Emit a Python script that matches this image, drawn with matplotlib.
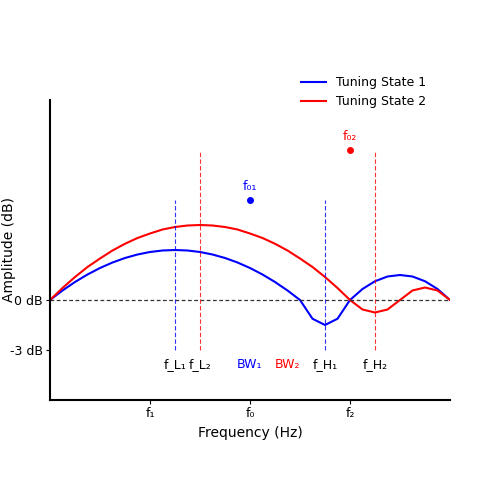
import numpy as np
import matplotlib
matplotlib.use("Agg")
import matplotlib.pyplot as plt

x = [i*0.25 for i in range(33)]
blue = [0,0.19,0.36,0.51,0.64,0.75,0.84,0.91,0.96,0.99,1.0,0.99,0.96,0.91,0.84,0.75,0.64,0.51,0.36,0.19,0,
        -0.375,-0.5,-0.375,0,0.22,0.375,0.47,0.5,0.47,0.375,0.22,0]
red = [0,0.24,0.46,0.66,0.83,0.99,1.125,1.24,1.33,1.41,1.46,1.49,1.5,1.49,1.46,1.41,1.33,1.24,1.125,0.99,0.83,0.66,0.46,0.24,0,
       -0.19,-0.25,-0.19,0,0.19,0.25,0.19,0]
vl_blue = [2.5, 5.5]; vl_blue_top = 2
vl_red = [3, 6.5]; vl_red_top = 3
f01 = (4, 2); f02 = (6, 3)
xticks = [2, 4, 6]; xticklabels = ["f₁", "f₀", "f₂"]
yticks = [0, -1]; yticklabels = ["0 dB", "-3 dB"]
labels = [(2.5, "f_L₁", "black"), (3.0, "f_L₂", "black"), (4.0, "BW₁", "blue"),
          (4.75, "BW₂", "red"), (5.5, "f_H₁", "black"), (6.5, "f_H₂", "black")]

fig = plt.figure(figsize=(5, 5), dpi=100)
ax = fig.add_axes([0.1, 0.2, 0.8, 0.6])
ax.plot(x, blue, color="blue", lw=1.5, label="Tuning State 1")
ax.plot(x, red, color="red", lw=1.5, label="Tuning State 2")
ax.axhline(0, color="#333333", ls=(0, (3, 2)), lw=0.9)
for v in vl_blue:
    ax.plot([v, v], [-1, vl_blue_top], color="blue", ls=(0, (4, 2)), lw=0.8, alpha=0.8)
for v in vl_red:
    ax.plot([v, v], [-1, vl_red_top], color="red", ls=(0, (4, 2)), lw=0.8, alpha=0.8)
ax.plot(*f01, "o", color="blue", ms=4)
ax.plot(*f02, "o", color="red", ms=4)
ax.text(f01[0], f01[1]+0.15, "f₀₁", color="blue", ha="center", va="bottom", fontsize=9)
ax.text(f02[0], f02[1]+0.15, "f₀₂", color="red", ha="center", va="bottom", fontsize=9)
for xv, t, c in labels:
    ax.text(xv, -1.3, t, color=c, ha="center", va="center", fontsize=9)
ax.set_xlim(0, 8); ax.set_ylim(-2, 4)
ax.set_xticks(xticks); ax.set_xticklabels(xticklabels, fontsize=9)
ax.set_yticks(yticks); ax.set_yticklabels(yticklabels, fontsize=9)
ax.tick_params(length=3, pad=2)
ax.spines["top"].set_visible(False); ax.spines["right"].set_visible(False)
ax.spines["left"].set_linewidth(1.5); ax.spines["bottom"].set_linewidth(1.5)
ax.set_xlabel("Frequency (Hz)", fontsize=10)
ax.set_ylabel("Amplitude (dB)", fontsize=10)
ax.yaxis.set_label_coords(-0.085, 0.5)
fig.legend(loc="upper left", bbox_to_anchor=(0.58, 0.87), frameon=False, fontsize=9)
fig.savefig("out.png", dpi=100)
